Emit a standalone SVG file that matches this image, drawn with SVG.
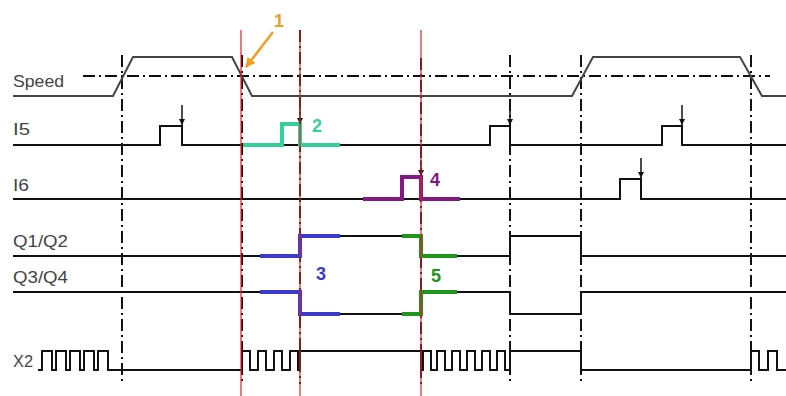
<svg xmlns="http://www.w3.org/2000/svg" width="786" height="396" viewBox="0 0 786 396">
  <style>
    .lbl { font-family: "Liberation Sans", Arial, sans-serif; font-size: 16.5px; fill: #444; }
    .num { font-family: "Liberation Sans", Arial, sans-serif; font-size: 18px; font-weight: bold; }
    .trace { fill: none; stroke: #111; stroke-width: 2; stroke-linejoin: miter; }
    .speed { fill: none; stroke: #444; stroke-width: 2; }
    .grid { fill: none; stroke: #111; stroke-width: 2; stroke-dasharray: 12 4 2 4; }
    .thr { fill: none; stroke: #111; stroke-width: 2; stroke-dasharray: 12 4 2 4; }
    .red { fill: none; stroke: #d8242a; stroke-width: 1.2; }
    .hl { fill: none; stroke-width: 4; stroke-linejoin: miter; }
    .tick { fill: none; stroke: #111; stroke-width: 1.5; }
  </style>
  <defs>
    <marker id="tickhead" viewBox="0 0 10 10" refX="10" refY="5" markerWidth="6" markerHeight="6" orient="auto" markerUnits="userSpaceOnUse">
      <path d="M0,0 L10,5 L0,10 Z" fill="#111"/>
    </marker>
    <marker id="orangehead" viewBox="0 0 10 10" refX="9" refY="5" markerWidth="10" markerHeight="10" orient="auto" markerUnits="userSpaceOnUse">
      <path d="M0,0 L10,5 L0,10 Z" fill="#f0a020"/>
    </marker>
  </defs>
  <rect width="786" height="396" fill="#fff"/>

  <!-- signal labels -->
  <g id="labels">
    <text class="lbl" x="13" y="87" textLength="51" lengthAdjust="spacingAndGlyphs">Speed</text>
    <text class="lbl" x="13" y="135" textLength="17" lengthAdjust="spacingAndGlyphs">I5</text>
    <text class="lbl" x="13" y="191" textLength="16" lengthAdjust="spacingAndGlyphs">I6</text>
    <text class="lbl" x="13" y="247" textLength="55" lengthAdjust="spacingAndGlyphs">Q1/Q2</text>
    <text class="lbl" x="13" y="283" textLength="55" lengthAdjust="spacingAndGlyphs">Q3/Q4</text>
    <text class="lbl" x="13" y="367" textLength="20" lengthAdjust="spacingAndGlyphs">X2</text>
  </g>

  <!-- time markers (dash-dot) -->
  <g id="grid">
    <line class="thr" x1="83" y1="76" x2="770" y2="76"/>
    <line class="grid" x1="122" y1="55" x2="122" y2="384"/>
    <line class="grid" x1="242" y1="55" x2="242" y2="384"/>
    <line class="grid" x1="300" y1="30" x2="300" y2="384"/>
    <line class="grid" x1="421" y1="58" x2="421" y2="384"/>
    <line class="grid" x1="510" y1="55" x2="510" y2="384"/>
    <line class="grid" x1="581" y1="55" x2="581" y2="384"/>
    <line class="grid" x1="751" y1="55" x2="751" y2="384"/>
  </g>

  <!-- Speed -->
  <g id="speed">
    <path class="speed" d="M13,96 H113 L133,57 H232 L252,96 H572 L593,57 H740 L762,96 H786"/>
  </g>

  <!-- I5 -->
  <g id="i5">
    <path class="trace" d="M13,145 H160 V126 H182 V145 H490 V126 H510 V145 H662 V126 H682 V145 H786"/>
    <line class="tick" x1="182" y1="105" x2="182" y2="125" marker-end="url(#tickhead)"/>
    <line class="tick" x1="510" y1="105" x2="510" y2="125" marker-end="url(#tickhead)"/>
    <line class="tick" x1="682" y1="105" x2="682" y2="125" marker-end="url(#tickhead)"/>
  </g>

  <!-- I6 -->
  <g id="i6">
    <path class="trace" d="M13,199 H620 V179 H641 V199 H786"/>
    <line class="tick" x1="641" y1="158" x2="641" y2="178" marker-end="url(#tickhead)"/>
  </g>

  <!-- Q1/Q2 -->
  <g id="q1q2">
    <path class="trace" d="M13,256 H300 V236 H421 V256 H510 V236 H581 V256 H786"/>
  </g>

  <!-- Q3/Q4 -->
  <g id="q3q4">
    <path class="trace" d="M13,292 H300 V314 H421 V292 H510 V314 H581 V292 H786"/>
  </g>

  <!-- X2 -->
  <g id="x2">
    <path class="trace" d="M38,370 H42 V351 H52 V370 H56 V351 H66 V370 H70 V351 H80 V370 H84 V351 H94 V370 H98 V351 H108 V370 H242 V351 H250 V370 H258 V351 H266 V370 H274 V351 H282 V370 H290 V351 H298 V370 H300 V351 H421 V370 H423 V351 H431 V370 H437 V351 H445 V370 H452 V351 H460 V370 H467 V351 H475 V370 H482 V351 H490 V370 H497 V351 H505 V370 H510 V351 H581 V370 H751 V351 H759 V370 H768 V351 H777 V370 H786"/>
  </g>

  <!-- highlighted sequence -->
  <g id="step2">
    <path class="hl" stroke="#36cf9c" d="M243,145 H282 V124 H300 V145 H340"/>
    <line class="tick" x1="300" y1="108" x2="300" y2="124" marker-end="url(#tickhead)"/>
    <text class="num" x="312" y="132" fill="#36cf9c">2</text>
  </g>
  <g id="step3">
    <path class="hl" stroke="#3a3acc" d="M260,256 H300 V236 H340"/>
    <path class="hl" stroke="#3a3acc" d="M260,292 H300 V314 H340"/>
    <text class="num" x="316" y="280" fill="#3a3acc">3</text>
  </g>
  <g id="step4">
    <path class="hl" stroke="#821a82" d="M363,199 H402 V177 H421 V199 H460"/>
    <line class="tick" x1="421" y1="160" x2="421" y2="176" marker-end="url(#tickhead)"/>
    <text class="num" x="430" y="186" fill="#821a82">4</text>
  </g>
  <g id="step5">
    <path class="hl" stroke="#1e961e" d="M402,236 H421 V256 H457"/>
    <path class="hl" stroke="#1e961e" d="M402,314 H421 V292 H457"/>
    <text class="num" x="431" y="282" fill="#1e961e">5</text>
  </g>

  <!-- event cursors -->
  <g id="cursors">
    <line class="red" x1="241" y1="30" x2="241" y2="396"/>
    <line class="red" x1="300" y1="30" x2="300" y2="396"/>
    <line class="red" x1="421" y1="30" x2="421" y2="396"/>
  </g>

  <!-- step 1 marker -->
  <g id="step1">
    <line x1="273" y1="32" x2="246" y2="67" stroke="#f0a020" stroke-width="2.5" marker-end="url(#orangehead)"/>
    <text class="num" x="274" y="27" fill="#f0a020">1</text>
  </g>
</svg>
